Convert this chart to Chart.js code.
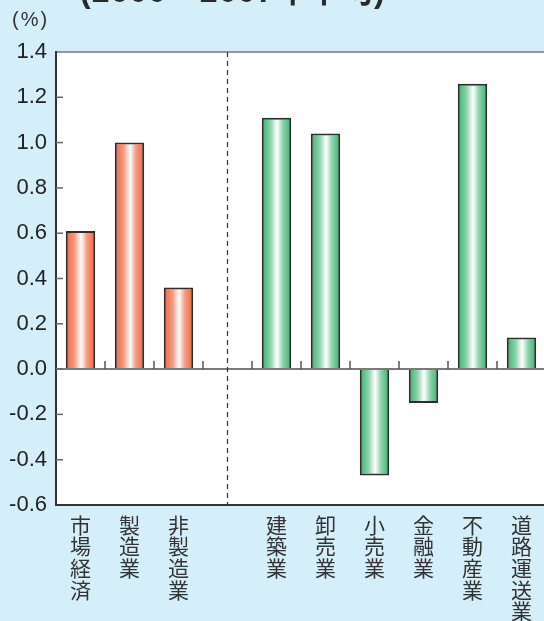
<!DOCTYPE html>
<html>
<head>
<meta charset="utf-8">
<script src="https://cdn.jsdelivr.net/npm/chart.js@4.4.1/dist/chart.umd.min.js"></script>
<style>
  html, body { margin: 0; padding: 0; background: #d4eefa; overflow: hidden; }
  #wrap { position: relative; width: 550px; height: 621px; }
  #title { position: absolute; left: 80px; top: -25px; font: bold 32px "Liberation Sans", "Noto Sans CJK JP", sans-serif; line-height: 32px; color: #2a2a2a; white-space: nowrap; letter-spacing: 1px; }
  #unit { position: absolute; left: 12px; top: 8px; font: 20px "Liberation Sans", "Noto Sans CJK JP", sans-serif; color: #333; letter-spacing: 2px; }
</style>
</head>
<body>
<div id="wrap">
  <div id="title">(2000－2007年平均)</div>
  <div id="unit">(%)</div>
  <canvas id="chart" width="550" height="621"></canvas>
</div>
<script>
  // categories (empty slot separates 市場経済 group from the industries)
  const categories = ['市場経済', '製造業', '非製造業', '', '建築業', '卸売業', '小売業', '金融業', '不動産業', '道路運送業'];
  const growth = [0.61, 1.00, 0.36, null, 1.11, 1.04, -0.47, -0.15, 1.26, 0.14];
  const groupOf = ['red', 'red', 'red', null, 'green', 'green', 'green', 'green', 'green', 'green'];
  const yTicks = [-0.6, -0.4, -0.2, 0.0, 0.2, 0.4, 0.6, 0.8, 1.0, 1.2, 1.4];

  const BAR_PCT = 0.6;
  const palette = {
    red: ['#ee6647', '#f59a7f', '#ffffff', '#f49a80', '#ee6647'],
    green: ['#38b06d', '#8ed3ac', '#ffffff', '#8ed3ac', '#38b06d']
  };

  function barFill(context) {
    const chart = context.chart;
    const x = chart.scales.x;
    const g = groupOf[context.dataIndex];
    if (!chart.chartArea || !x || !g) return '#ee6647';
    const slot = x.getPixelForValue(1) - x.getPixelForValue(0);
    const cx = x.getPixelForValue(context.dataIndex);
    const half = slot * BAR_PCT / 2;
    const grad = chart.ctx.createLinearGradient(cx - half, 0, cx + half, 0);
    const c = palette[g];
    grad.addColorStop(0, c[0]);
    grad.addColorStop(0.3, c[1]);
    grad.addColorStop(0.52, c[2]);
    grad.addColorStop(0.72, c[3]);
    grad.addColorStop(1, c[4]);
    return grad;
  }

  // small inner ticks, zero line and the dashed separator
  const decor = {
    id: 'decor',
    afterDatasetsDraw(chart) {
      const { ctx, chartArea, scales } = chart;
      const x = scales.x, y = scales.y;
      const y0 = y.getPixelForValue(0);
      ctx.save();
      // zero line
      ctx.strokeStyle = '#7a7a7a';
      ctx.lineWidth = 2;
      ctx.beginPath();
      ctx.moveTo(chartArea.left, y0);
      ctx.lineTo(chartArea.right, y0);
      ctx.stroke();
      // category boundary ticks above zero line
      ctx.lineWidth = 1.5;
      ctx.strokeStyle = '#555';
      for (let i = 0; i < categories.length - 1; i++) {
        const bx = (x.getPixelForValue(i) + x.getPixelForValue(i + 1)) / 2;
        ctx.beginPath();
        ctx.moveTo(bx, y0 - 8);
        ctx.lineTo(bx, y0);
        ctx.stroke();
      }
      // y inner ticks
      ctx.strokeStyle = '#666';
      ctx.lineWidth = 1.5;
      yTicks.slice(1, -1).forEach(v => {
        const py = y.getPixelForValue(v);
        ctx.beginPath();
        ctx.moveTo(chartArea.left, py);
        ctx.lineTo(chartArea.left + 7, py);
        ctx.stroke();
      });
      // dashed separator at empty slot
      const sx = x.getPixelForValue(categories.indexOf(''));
      ctx.strokeStyle = '#333';
      ctx.lineWidth = 1.2;
      ctx.setLineDash([5, 4]);
      ctx.beginPath();
      ctx.moveTo(sx, chartArea.top);
      ctx.lineTo(sx, chartArea.bottom);
      ctx.stroke();
      ctx.restore();
    }
  };

  const plotBg = {
    id: 'plotBg',
    beforeDraw(chart) {
      const { ctx, chartArea } = chart;
      ctx.save();
      ctx.fillStyle = '#ffffff';
      ctx.fillRect(chartArea.left, chartArea.top, chartArea.right - chartArea.left, chartArea.bottom - chartArea.top);
      ctx.strokeStyle = '#777';
      ctx.lineWidth = 1.5;
      ctx.beginPath();
      ctx.moveTo(chartArea.left, chartArea.top);
      ctx.lineTo(chartArea.right, chartArea.top);
      ctx.stroke();
      ctx.restore();
    }
  };

  new Chart(document.getElementById('chart'), {
    type: 'bar',
    data: {
      labels: categories.map(s => s.split('')),
      datasets: [{
        data: growth,
        backgroundColor: barFill,
        borderColor: '#2e2e2e',
        borderWidth: 2,
        barPercentage: BAR_PCT,
        categoryPercentage: 1.0
      }]
    },
    options: {
      responsive: false,
      animation: false,
      layout: { padding: { top: 52, right: 4, left: 0, bottom: 0 } },
      plugins: { legend: { display: false }, tooltip: { enabled: false } },
      scales: {
        x: {
          grid: { display: false, drawTicks: false },
          border: { display: true, color: '#333', width: 2 },
          afterFit(scale) { scale.height = 116; },
          ticks: {
            autoSkip: false,
            maxRotation: 0,
            minRotation: 0,
            padding: 9,
            color: '#333',
            font: { family: '"Noto Sans CJK JP", sans-serif', size: 21, lineHeight: 1.03 }
          }
        },
        y: {
          min: -0.6,
          max: 1.4,
          grid: { display: false, drawTicks: false },
          border: { display: true, color: '#333', width: 2 },
          afterFit(scale) { scale.width = 56; },
          afterBuildTicks(scale) { scale.ticks = yTicks.map(v => ({ value: v })); },
          ticks: {
            padding: 9,
            color: '#222',
            font: { family: '"Liberation Sans", Arial, sans-serif', size: 22 },
            callback: v => Number(v).toFixed(1)
          }
        }
      }
    },
    plugins: [plotBg, decor]
  });
</script>
</body>
</html>
